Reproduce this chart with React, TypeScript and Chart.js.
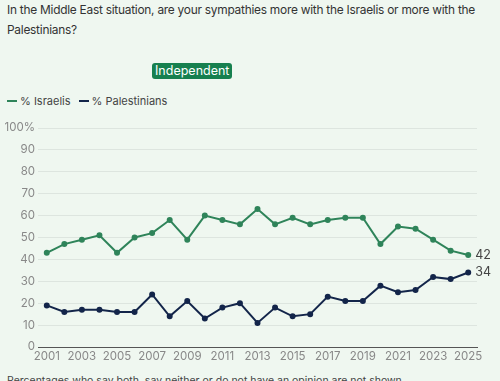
import React, { useEffect, useRef } from "react";
import { Chart, registerables } from "chart.js";

Chart.register(...registerables);

const years = [
  "2001","2002","2003","2004","2005","2006","2007","2008","2009","2010","2011","2012","2013",
  "2014","2015","2016","2017","2018","2019","2020","2021","2022","2023","2024","2025",
];
const israelis = [43,47,49,51,43,50,52,58,49,60,58,56,63,56,59,56,58,59,59,47,55,54,49,44,42];
const palestinians = [19,16,17,17,16,16,24,14,21,13,18,20,11,18,14,15,23,21,21,28,25,26,32,31,34];
const yTicks = [0,10,20,30,40,50,60,70,80,90,100];

const GREEN = "#2f845a";
const NAVY = "#13254a";
const BG = "#eff7f0";
const FONT = "Inter, 'Noto Sans', sans-serif";

export default function App() {
  const ref = useRef<HTMLCanvasElement>(null);
  useEffect(() => {
    const endLabels = {
      id: "endLabels",
      afterDatasetsDraw(chart: any) {
        const ctx = chart.ctx;
        ctx.save();
        ctx.font = `12.5px ${FONT}`;
        ctx.fillStyle = "#444";
        ctx.textBaseline = "middle";
        chart.data.datasets.forEach((ds: any, i: number) => {
          const meta = chart.getDatasetMeta(i);
          const pt = meta.data[meta.data.length - 1];
          ctx.fillText(String(ds.data[ds.data.length - 1]), pt.x + 7, pt.y);
        });
        ctx.restore();
      },
    };
    const chart = new Chart(ref.current!, {
      type: "line",
      data: {
        labels: years,
        datasets: [
          { label: "% Israelis", data: israelis, borderColor: GREEN, backgroundColor: GREEN, borderWidth: 2, pointRadius: 2, pointHoverRadius: 2, tension: 0 },
          { label: "% Palestinians", data: palestinians, borderColor: NAVY, backgroundColor: NAVY, borderWidth: 2, pointRadius: 2, pointHoverRadius: 2, tension: 0 },
        ],
      },
      options: {
        animation: false,
        responsive: false,
        maintainAspectRatio: false,
        layout: { padding: { top: 18, right: 23, left: 0, bottom: 0 } },
        plugins: { legend: { display: false }, tooltip: { enabled: false } },
        scales: {
          x: {
            offset: true,
            grid: { display: false, drawTicks: false },
            border: { display: true, color: "#555", width: 1 },
            ticks: {
              autoSkip: false,
              maxRotation: 0,
              padding: 3,
              color: "#888",
              font: { family: FONT, size: 11.5 },
              callback: (_v: any, i: number) => (i % 2 === 0 ? years[i] : ""),
            },
            afterFit: (s: any) => { s.height = 23; },
          },
          y: {
            min: 0,
            max: 100,
            afterBuildTicks: (s: any) => { s.ticks = yTicks.map((v) => ({ value: v })); },
            grid: { color: "#dde5df", drawTicks: false, lineWidth: 1 },
            border: { display: false },
            ticks: {
              padding: 3,
              color: "#888",
              font: { family: FONT, size: 11.5 },
              callback: (v: any) => (v === 100 ? "100%" : String(v)),
            },
            afterFit: (s: any) => { s.width = 38; },
          },
        },
      },
      plugins: [endLabels],
    });
    return () => chart.destroy();
  }, []);

  const legendItem = (color: string, text: string) => (
    <span style={{ display: "inline-flex", alignItems: "center", marginRight: 8 }}>
      <span style={{ display: "inline-block", width: 10, height: 2, background: color, marginRight: 3 }} />
      {text}
    </span>
  );

  return (
    <div style={{ position: "absolute", left: 0, top: 0, width: 500, height: 381, background: BG, overflow: "hidden", fontFamily: FONT, color: "#333" }}>
      <div style={{ position: "absolute", left: 7, top: 0, fontSize: 11.9, lineHeight: "20px", whiteSpace: "nowrap", letterSpacing: -0.25 }}>
        In the Middle East situation, are your sympathies more with the Israelis or more with the
        <br />
        Palestinians?
      </div>
      <div style={{ position: "absolute", left: 152, top: 63, background: "#17804f", color: "#fff", fontSize: 12.5, lineHeight: "14px", padding: "1px 3px", borderRadius: 3 }}>
        Independent
      </div>
      <div style={{ position: "absolute", left: 7, top: 94, fontSize: 11, color: "#444", display: "flex" }}>
        {legendItem(GREEN, "% Israelis")}
        {legendItem(NAVY, "% Palestinians")}
      </div>
      <canvas ref={ref} width={500} height={260} style={{ position: "absolute", left: 0, top: 110, width: 500, height: 260 }} />
      <div style={{ position: "absolute", left: 7, top: 374, fontSize: 10.5, color: "#444", whiteSpace: "nowrap" }}>
        Percentages who say both, say neither or do not have an opinion are not shown.
      </div>
    </div>
  );
}
